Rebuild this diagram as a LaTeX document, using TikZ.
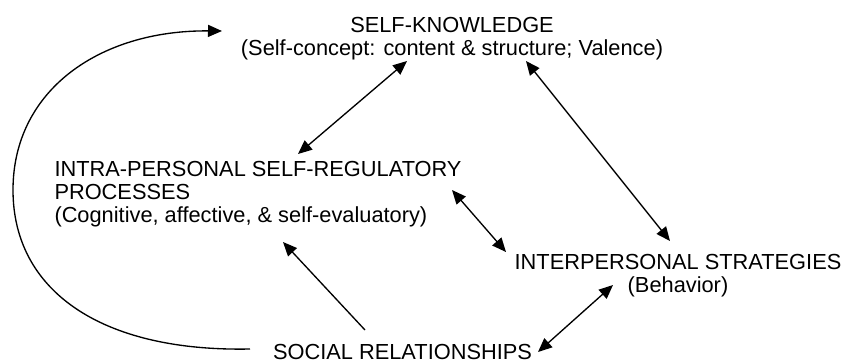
\documentclass[tikz,border=0pt]{standalone}
\usepackage{fontspec}
\setmainfont{Liberation Sans}
\usetikzlibrary{arrows.meta,calc}
\begin{document}
\begin{tikzpicture}[x=0.75pt,y=-0.75pt,
  lbl/.style={inner sep=0pt,outer sep=0pt,font=\fontsize{16.35pt}{17.25pt}\selectfont},
  conn/.style={line width=1pt},
  tip/.tip={Triangle[length=10.5pt,width=9pt]},
  one/.style={conn,-tip},
  two/.style={conn,tip-tip}]
\useasboundingbox (0,0) rectangle (843,362);
\node[lbl,align=center,anchor=north] (sk) at (452,17.7)
  {SELF-KNOWLEDGE\\(Self-concept: content \& structure; Valence)};
\node[lbl,align=left,anchor=north west] (ip) at (54.5,161)
  {INTRA-PERSONAL SELF-REGULATORY\\PROCESSES\\(Cognitive, affective, \& self-evaluatory)};
\node[lbl,align=center,anchor=north] (is) at (678,254)
  {INTERPERSONAL STRATEGIES\\(Behavior)};
\node[lbl,anchor=base] (sr) at (402.5,359.5) {SOCIAL RELATIONSHIPS};
\coordinate (loopL) at (13,190);
\draw[two] ($(sk.north)+(-45,43.3)$) -- ($(ip.north west)+(243.5,-7)$);
\draw[two] ($(sk.north)+(74,43.3)$) -- ($(is.north)+(-8,-13)$);
\draw[two] ($(ip.north west)+(397.5,29)$) -- ($(is.north)+(-172,-2)$);
\draw[one] ($(sr.base)+(-37.5,-29.5)$) -- ($(ip.north west)+(228.5,81)$);
\draw[two] ($(sr.base)+(135.5,-7.5)$) -- ($(is.north)+(-65,31)$);
\draw[one] ($(sr.base)+(-152.5,-10.5)$) .. controls (100,352) and (13,290) .. (loopL)
  .. controls (13,90) and (100,30) .. ($(sk.north)+(-230,13.3)$);
\end{tikzpicture}
\end{document}
